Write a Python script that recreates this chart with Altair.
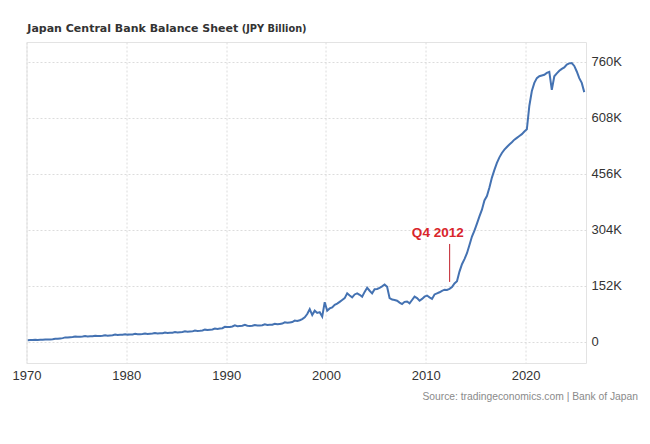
import altair as alt
import pandas as pd

# Japan Central Bank balance sheet, thousand JPY billion (K), quarterly readings
years = list(range(1970, 2026))
quarterly_values = [
    [4.0, 4.2, 4.3, 5.2],        # 1970
    [4.6, 4.8, 5.0, 6.0],        # 1971
    [5.5, 5.8, 6.2, 7.8],        # 1972
    [7.5, 8.5, 9.5, 11.5],       # 1973
    [11.0, 12.0, 12.5, 14.0],    # 1974
    [13.0, 13.5, 13.8, 15.0],    # 1975
    [14.2, 14.5, 14.8, 16.2],    # 1976
    [15.2, 15.5, 15.8, 17.2],    # 1977
    [16.2, 16.8, 17.2, 19.0],    # 1978
    [18.0, 18.4, 18.8, 20.2],    # 1979
    [19.0, 19.3, 19.6, 21.0],    # 1980
    [20.0, 20.3, 20.6, 22.0],    # 1981
    [21.0, 21.4, 21.8, 23.2],    # 1982
    [22.2, 22.6, 23.0, 24.6],    # 1983
    [23.5, 24.0, 24.4, 26.0],    # 1984
    [25.0, 25.5, 26.0, 27.8],    # 1985
    [26.8, 27.3, 27.8, 30.0],    # 1986
    [29.0, 29.5, 30.2, 32.5],    # 1987
    [31.5, 32.2, 33.0, 35.5],    # 1988
    [34.5, 35.5, 36.5, 40.0],    # 1989
    [39.5, 40.0, 41.0, 44.0],    # 1990
    [42.0, 42.5, 43.0, 45.5],    # 1991
    [43.0, 42.5, 43.0, 45.0],    # 1992
    [43.5, 44.0, 44.5, 47.0],    # 1993
    [45.0, 45.5, 46.0, 48.5],    # 1994
    [47.0, 48.0, 49.0, 52.5],    # 1995
    [51.0, 52.0, 53.0, 57.0],    # 1996
    [56.0, 58.0, 61.0, 66.0],    # 1997
    [75.0, 88.0, 72.0, 84.0],    # 1998
    [78.0, 80.0, 68.0, 107.0],   # 1999
    [84.0, 90.0, 93.0, 100.0],   # 2000
    [103.0, 108.0, 113.0, 118.0],  # 2001
    [131.0, 125.0, 120.0, 128.0],  # 2002
    [131.0, 127.0, 122.0, 135.0],  # 2003
    [146.0, 138.0, 131.0, 142.0],  # 2004
    [143.0, 146.0, 150.0, 155.0],  # 2005
    [149.0, 118.0, 114.0, 113.0],  # 2006
    [111.0, 106.0, 102.0, 108.0],  # 2007
    [109.0, 104.0, 113.0, 122.0],  # 2008
    [118.0, 111.0, 116.0, 122.0],  # 2009
    [125.0, 120.0, 116.0, 128.0],  # 2010
    [131.0, 134.0, 138.0, 141.0],  # 2011
    [140.0, 143.0, 148.0, 158.0],  # 2012
    [164.0, 190.0, 210.0, 224.0],  # 2013
    [240.0, 262.0, 285.0, 301.0],  # 2014
    [320.0, 340.0, 358.0, 383.0],  # 2015
    [395.0, 418.0, 445.0, 466.0],  # 2016
    [485.0, 500.0, 512.0, 521.0],  # 2017
    [528.0, 535.0, 541.0, 548.0],  # 2018
    [553.0, 558.0, 563.0, 570.0],  # 2019
    [576.0, 640.0, 680.0, 702.0],  # 2020
    [715.0, 720.0, 722.0, 724.0],  # 2021
    [729.0, 732.0, 683.0, 720.0],  # 2022
    [728.0, 735.0, 740.0, 744.0],  # 2023
    [752.0, 755.0, 756.0, 748.0],  # 2024
    [733.0, 715.0, 702.0, 677.0],  # 2025
]

x_ticks = [1970, 1980, 1990, 2000, 2010, 2020]
y_ticks = [0, 152, 304, 456, 608, 760]

annotation_label = ["Q4 2012"]
annotation_x = [2011.2]
annotation_y = [284]
marker_x = [2012.39]
marker_y_low = [162]
marker_y_high = [265]

title_main = "Japan Central Bank Balance Sheet"
title_unit = "(JPY Billion)"
source_text = "Source: tradingeconomics.com | Bank of Japan"

rows = []
for yr, qs in zip(years, quarterly_values):
    for qi, v in enumerate(qs):
        rows.append({"t": yr + qi / 4 + 0.125, "v": v})
df = pd.DataFrame(rows)

FONT = "Liberation Sans"
TFONT = "DejaVu Sans"
xscale = alt.Scale(domain=[1970, 2026.05], nice=False, zero=False)
yscale = alt.Scale(domain=[-58, 813], nice=False, zero=False)

line = alt.Chart(df).mark_line(color="#4472b2", strokeWidth=2).encode(
    x=alt.X("t:Q", scale=xscale, axis=alt.Axis(
        values=x_ticks, format="d", title=None, grid=True, gridDash=[2, 2],
        gridColor="#dcdcdc", ticks=False, domain=False, labelFlush=False,
        labelFontSize=13, labelColor="#333333", labelFont=FONT, labelPadding=6)),
    y=alt.Y("v:Q", scale=yscale, axis=alt.Axis(
        orient="right", values=y_ticks, title=None, grid=True, gridDash=[2, 2],
        gridColor="#dcdcdc", ticks=False, domain=False,
        labelExpr="datum.value == 0 ? '0' : datum.value + 'K'",
        labelFontSize=13, labelColor="#333333", labelFont=FONT, labelPadding=5)),
)

ann_df = pd.DataFrame({"label": annotation_label, "x": annotation_x, "y": annotation_y})
ann_text = alt.Chart(ann_df).mark_text(
    color="#d9252b", fontSize=13.5, fontWeight="bold", font=FONT,
    align="center", baseline="alphabetic").encode(
    x=alt.X("x:Q", scale=xscale), y=alt.Y("y:Q", scale=yscale), text="label:N")

rule_df = pd.DataFrame({"x": marker_x, "y": marker_y_low, "y2": marker_y_high})
ann_rule = alt.Chart(rule_df).mark_rule(color="#c0202a", strokeWidth=1).encode(
    x=alt.X("x:Q", scale=xscale), y=alt.Y("y:Q", scale=yscale), y2="y2:Q")

t1 = alt.Chart(pd.DataFrame({"s": [title_main]})).mark_text(
    font=TFONT, fontSize=11, fontWeight="bold", color="#333333",
    align="left", baseline="alphabetic").encode(
    x=alt.value(0.8), y=alt.value(-9.7), text="s:N")
t2 = alt.Chart(pd.DataFrame({"s": [title_unit]})).mark_text(
    font=TFONT, fontSize=9.8, fontWeight="bold", color="#333333",
    align="left", baseline="alphabetic").encode(
    x=alt.value(215.2), y=alt.value(-9.7), text="s:N")
src = alt.Chart(pd.DataFrame({"s": [source_text]})).mark_text(
    font=FONT, fontSize=10.3, color="#8a8a8a",
    align="right", baseline="middle").encode(
    x=alt.value(611.5), y=alt.value(355), text="s:N")

chart = alt.layer(line, ann_rule, ann_text, t1, t2, src).properties(
    width=559.5, height=321,
    autosize=alt.AutoSizeParams(type="none"),
    padding={"left": 18.5, "top": 34, "right": 56, "bottom": 73},
    background="white",
).configure_view(stroke="#e3e3e3", strokeWidth=1)

chart.save("out.html", embed_options={"renderer": "svg", "actions": False})
